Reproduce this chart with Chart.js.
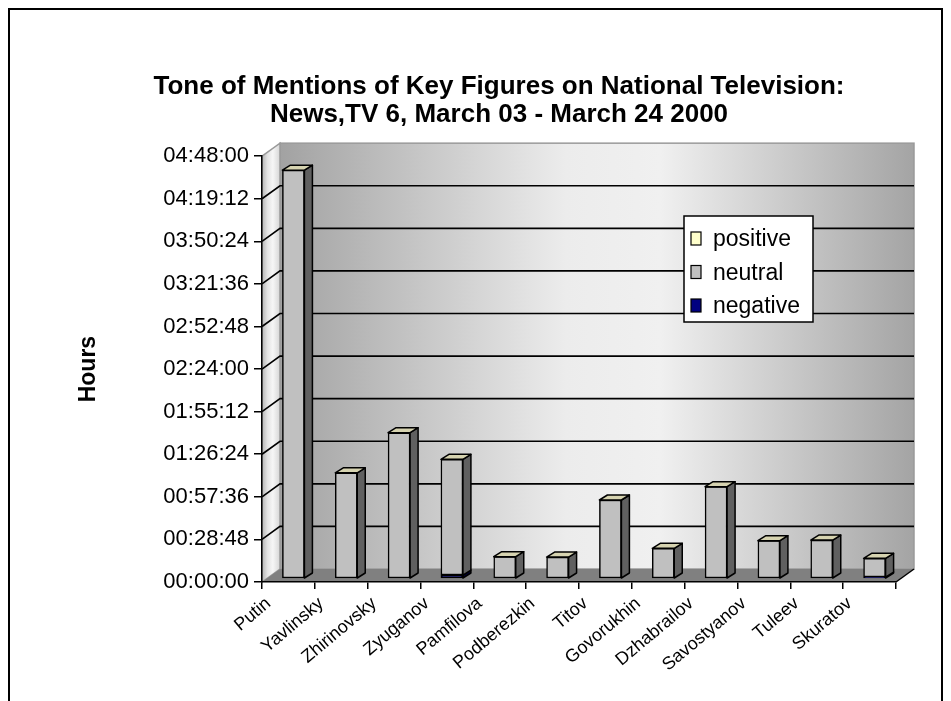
<!DOCTYPE html>
<html>
<head>
<meta charset="utf-8">
<title>Tone of Mentions of Key Figures on National Television</title>
<script src="https://cdn.jsdelivr.net/npm/chart.js@4.4.1/dist/chart.umd.min.js"></script>
<style>
  html, body { margin: 0; padding: 0; background: #ffffff; }
  canvas { display: block; }
</style>
</head>
<body>
<canvas id="chart" width="951" height="701"></canvas>
<script>
// Candidates, in the order they appear along the axis
const names = ['Putin', 'Yavlinsky', 'Zhirinovsky', 'Zyuganov', 'Pamfilova', 'Podberezkin',
               'Titov', 'Govorukhin', 'Dzhabrailov', 'Savostyanov', 'Tuleev', 'Skuratov'];

// Air time per tone, in seconds
const positiveSec = [0, 0, 0, 0, 0, 0, 0, 0, 0, 0, 0, 0];
const neutralSec  = [16550, 4270, 5895, 4695, 865, 850, 3165, 1205, 3705, 1515, 1540, 760];
const negativeSec = [0, 0, 0, 120, 0, 0, 0, 0, 0, 0, 0, 40];

// Value axis: 00:00:00 to 04:48:00 in steps of 00:28:48
const axisMaxSec = 17280;
const tickStepSec = 1728;

const FONT = 'Arial, "Liberation Sans", Helvetica, sans-serif';

// Depth of the walls and of each column, in pixels
const WALL_DX = 18, WALL_DY = 13;
const COL_DX = 8, COL_DY = 5;
// Column front faces sit a third of the way into the floor
const COL_SHIFT_X = 5, COL_SHIFT_Y = 4;

function hms(sec) {
  const h = Math.floor(sec / 3600);
  const m = Math.floor((sec % 3600) / 60);
  const s = Math.round(sec % 60);
  return [h, m, s].map(n => String(n).padStart(2, '0')).join(':');
}

function points(values) {
  return values.map((v, i) => ({ x: i, y: v }));
}

function poly(ctx, pts) {
  ctx.beginPath();
  ctx.moveTo(pts[0][0], pts[0][1]);
  for (let i = 1; i < pts.length; i++) ctx.lineTo(pts[i][0], pts[i][1]);
  ctx.closePath();
}

// Walls, floor, gridlines and frame behind everything else
const scene = {
  id: 'scene',
  beforeDraw(chart) {
    const { ctx, chartArea: a } = chart;
    const yScale = chart.scales.y;
    ctx.save();

    // outer frame
    ctx.strokeStyle = '#000';
    ctx.lineWidth = 2;
    ctx.strokeRect(9, 9, 933, 720);

    // back wall
    const g = ctx.createLinearGradient(a.left + WALL_DX, 0, a.right + WALL_DX, 0);
    g.addColorStop(0, '#a2a2a2');
    g.addColorStop(0.45, '#ececec');
    g.addColorStop(0.6, '#f0f0f0');
    g.addColorStop(1, '#a4a4a4');
    ctx.fillStyle = g;
    ctx.fillRect(a.left + WALL_DX, a.top - WALL_DY, a.right - a.left, a.bottom - a.top);
    ctx.strokeStyle = '#9a9a9a';
    ctx.lineWidth = 1.5;
    ctx.strokeRect(a.left + WALL_DX, a.top - WALL_DY, a.right - a.left, a.bottom - a.top);

    // left wall
    const lw = ctx.createLinearGradient(a.left, 0, a.left + WALL_DX, 0);
    lw.addColorStop(0, '#b4b4b4');
    lw.addColorStop(0.3, '#e2e2e2');
    lw.addColorStop(0.6, '#f6f6f6');
    lw.addColorStop(1, '#d6d6d6');
    ctx.fillStyle = lw;
    poly(ctx, [[a.left, a.top], [a.left + WALL_DX, a.top - WALL_DY],
               [a.left + WALL_DX, a.bottom - WALL_DY], [a.left, a.bottom]]);
    ctx.fill();
    ctx.strokeStyle = '#9a9a9a';
    ctx.stroke();

    // floor
    ctx.fillStyle = '#808080';
    poly(ctx, [[a.left, a.bottom], [a.right, a.bottom],
               [a.right + WALL_DX, a.bottom - WALL_DY], [a.left + WALL_DX, a.bottom - WALL_DY]]);
    ctx.fill();
    ctx.strokeStyle = '#000';
    ctx.lineWidth = 1.5;
    ctx.beginPath();
    ctx.moveTo(a.right, a.bottom);
    ctx.lineTo(a.right + WALL_DX, a.bottom - WALL_DY);
    ctx.stroke();

    // gridlines on the back wall and across the left wall
    ctx.strokeStyle = '#000';
    ctx.lineWidth = 1.6;
    yScale.ticks.forEach(t => {
      if (t.value <= 0 || t.value >= axisMaxSec) return;
      const py = yScale.getPixelForValue(t.value);
      ctx.beginPath();
      ctx.moveTo(a.left, py);
      ctx.lineTo(a.left + WALL_DX, py - WALL_DY);
      ctx.lineTo(a.right + WALL_DX, py - WALL_DY);
      ctx.stroke();
    });
    ctx.restore();
  },

  // side and top faces of the columns
  afterDatasetsDraw(chart) {
    const { ctx } = chart;
    const tops = {};
    ctx.save();
    ctx.strokeStyle = '#000';
    ctx.lineWidth = 1.5;
    ctx.lineJoin = 'round';
    chart.data.datasets.forEach((ds, di) => {
      const meta = chart.getDatasetMeta(di);
      meta.data.forEach((bar, i) => {
        const p = bar.getProps(['x', 'y', 'base', 'width'], true);
        const top = Math.min(p.y, p.base), bottom = Math.max(p.y, p.base);
        if (bottom - top < 0.5) return;
        const left = p.x - p.width / 2, right = p.x + p.width / 2;
        ctx.fillStyle = ds.sideColor;
        poly(ctx, [[right, top], [right + COL_DX, top - COL_DY],
                   [right + COL_DX, bottom - COL_DY], [right, bottom]]);
        ctx.fill();
        ctx.stroke();
        if (!tops[i] || top < tops[i].top) tops[i] = { top, left, right };
      });
    });
    const topColor = chart.data.datasets.find(d => d.topColor).topColor;
    Object.values(tops).forEach(t => {
      ctx.fillStyle = topColor;
      poly(ctx, [[t.left, t.top], [t.left + COL_DX, t.top - COL_DY],
                 [t.right + COL_DX, t.top - COL_DY], [t.right, t.top]]);
      ctx.fill();
      ctx.stroke();
    });
    ctx.restore();
  },

  // legend box inside the plot
  afterDraw(chart) {
    const { ctx } = chart;
    const bx = 684, by = 216, bw = 129, bh = 106;
    ctx.save();
    ctx.fillStyle = '#fff';
    ctx.fillRect(bx, by, bw, bh);
    ctx.strokeStyle = '#000';
    ctx.lineWidth = 1.5;
    ctx.strokeRect(bx, by, bw, bh);
    const items = chart.data.datasets.slice().reverse();
    ctx.font = '23px ' + FONT;
    ctx.textBaseline = 'middle';
    ctx.textAlign = 'left';
    items.forEach((ds, k) => {
      const cy = by + 23 + k * 33.5;
      ctx.fillStyle = ds.backgroundColor;
      ctx.fillRect(bx + 7, cy - 7, 10, 13);
      ctx.lineWidth = 1.2;
      ctx.strokeRect(bx + 7, cy - 7, 10, 13);
      ctx.fillStyle = '#000';
      ctx.fillText(ds.label, bx + 29, cy + 1);
    });
    ctx.restore();
  }
};

const plotWidth = 634; // width of the front plane of the plot
const catShift = COL_SHIFT_X / (plotWidth / names.length);
const valShift = COL_SHIFT_Y / 426 * axisMaxSec;

const common = { xAxisID: 'xb', yAxisID: 'yb', borderColor: '#000', borderWidth: 1.5,
                 borderSkipped: false, barThickness: 22 };

new Chart(document.getElementById('chart'), {
  type: 'bar',
  data: {
    labels: names,
    datasets: [
      Object.assign({ label: 'negative', data: points(negativeSec),
        backgroundColor: '#000080', sideColor: '#000040' }, common),
      Object.assign({ label: 'neutral', data: points(neutralSec),
        backgroundColor: '#c0c0c0', sideColor: '#606060' }, common),
      Object.assign({ label: 'positive', data: points(positiveSec),
        backgroundColor: '#ffffcc', sideColor: '#a3a37f', topColor: '#d6d3b0' }, common)
    ]
  },
  options: {
    responsive: false,
    animation: false,
    devicePixelRatio: 1,
    layout: { padding: { left: 71, right: 24, top: 0, bottom: 0 } },
    plugins: {
      legend: { display: false },
      tooltip: { enabled: false },
      title: {
        display: true,
        text: ['Tone of Mentions of Key Figures on National Television:',
               'News,TV 6, March 03 - March 24 2000'],
        color: '#000',
        font: { family: FONT, size: 26, weight: 'bold', lineHeight: 1.08 },
        padding: { top: 73, bottom: 27 }
      }
    },
    scales: {
      x: {
        type: 'category',
        position: 'bottom',
        offset: true,
        grid: { offset: true, drawOnChartArea: false, drawTicks: true, tickLength: 7,
                color: '#000', lineWidth: 1.5 },
        border: { display: true, color: '#000', width: 1.5 },
        ticks: { color: '#000', font: { family: FONT, size: 18 }, autoSkip: false,
                 minRotation: 40, maxRotation: 40, padding: 4, labelOffset: -20 },
        afterFit(s) { s.height = 119; }
      },
      y: {
        type: 'linear',
        position: 'left',
        min: 0,
        max: axisMaxSec,
        grid: { drawOnChartArea: false, drawTicks: true, tickLength: 8,
                color: '#000', lineWidth: 1.5 },
        border: { display: true, color: '#000', width: 1.5 },
        ticks: { stepSize: tickStepSec, color: '#000', padding: 5,
                 font: { family: FONT, size: 22 }, callback: v => hms(v) },
        title: { display: true, text: 'Hours', color: '#000',
                 font: { family: FONT, size: 23, weight: 'bold' } },
        afterFit(s) { s.width = 191; }
      },
      yr: {
        type: 'linear',
        position: 'right',
        display: true,
        grid: { display: false },
        border: { display: false },
        ticks: { display: false },
        afterFit(s) { s.width = 31; }
      },
      xb: {
        type: 'linear',
        display: false,
        stacked: true,
        offset: false,
        min: -0.5 - catShift,
        max: names.length - 0.5 - catShift
      },
      yb: {
        type: 'linear',
        display: false,
        stacked: true,
        min: -valShift,
        max: axisMaxSec - valShift
      }
    }
  },
  plugins: [scene]
});
</script>
</body>
</html>
